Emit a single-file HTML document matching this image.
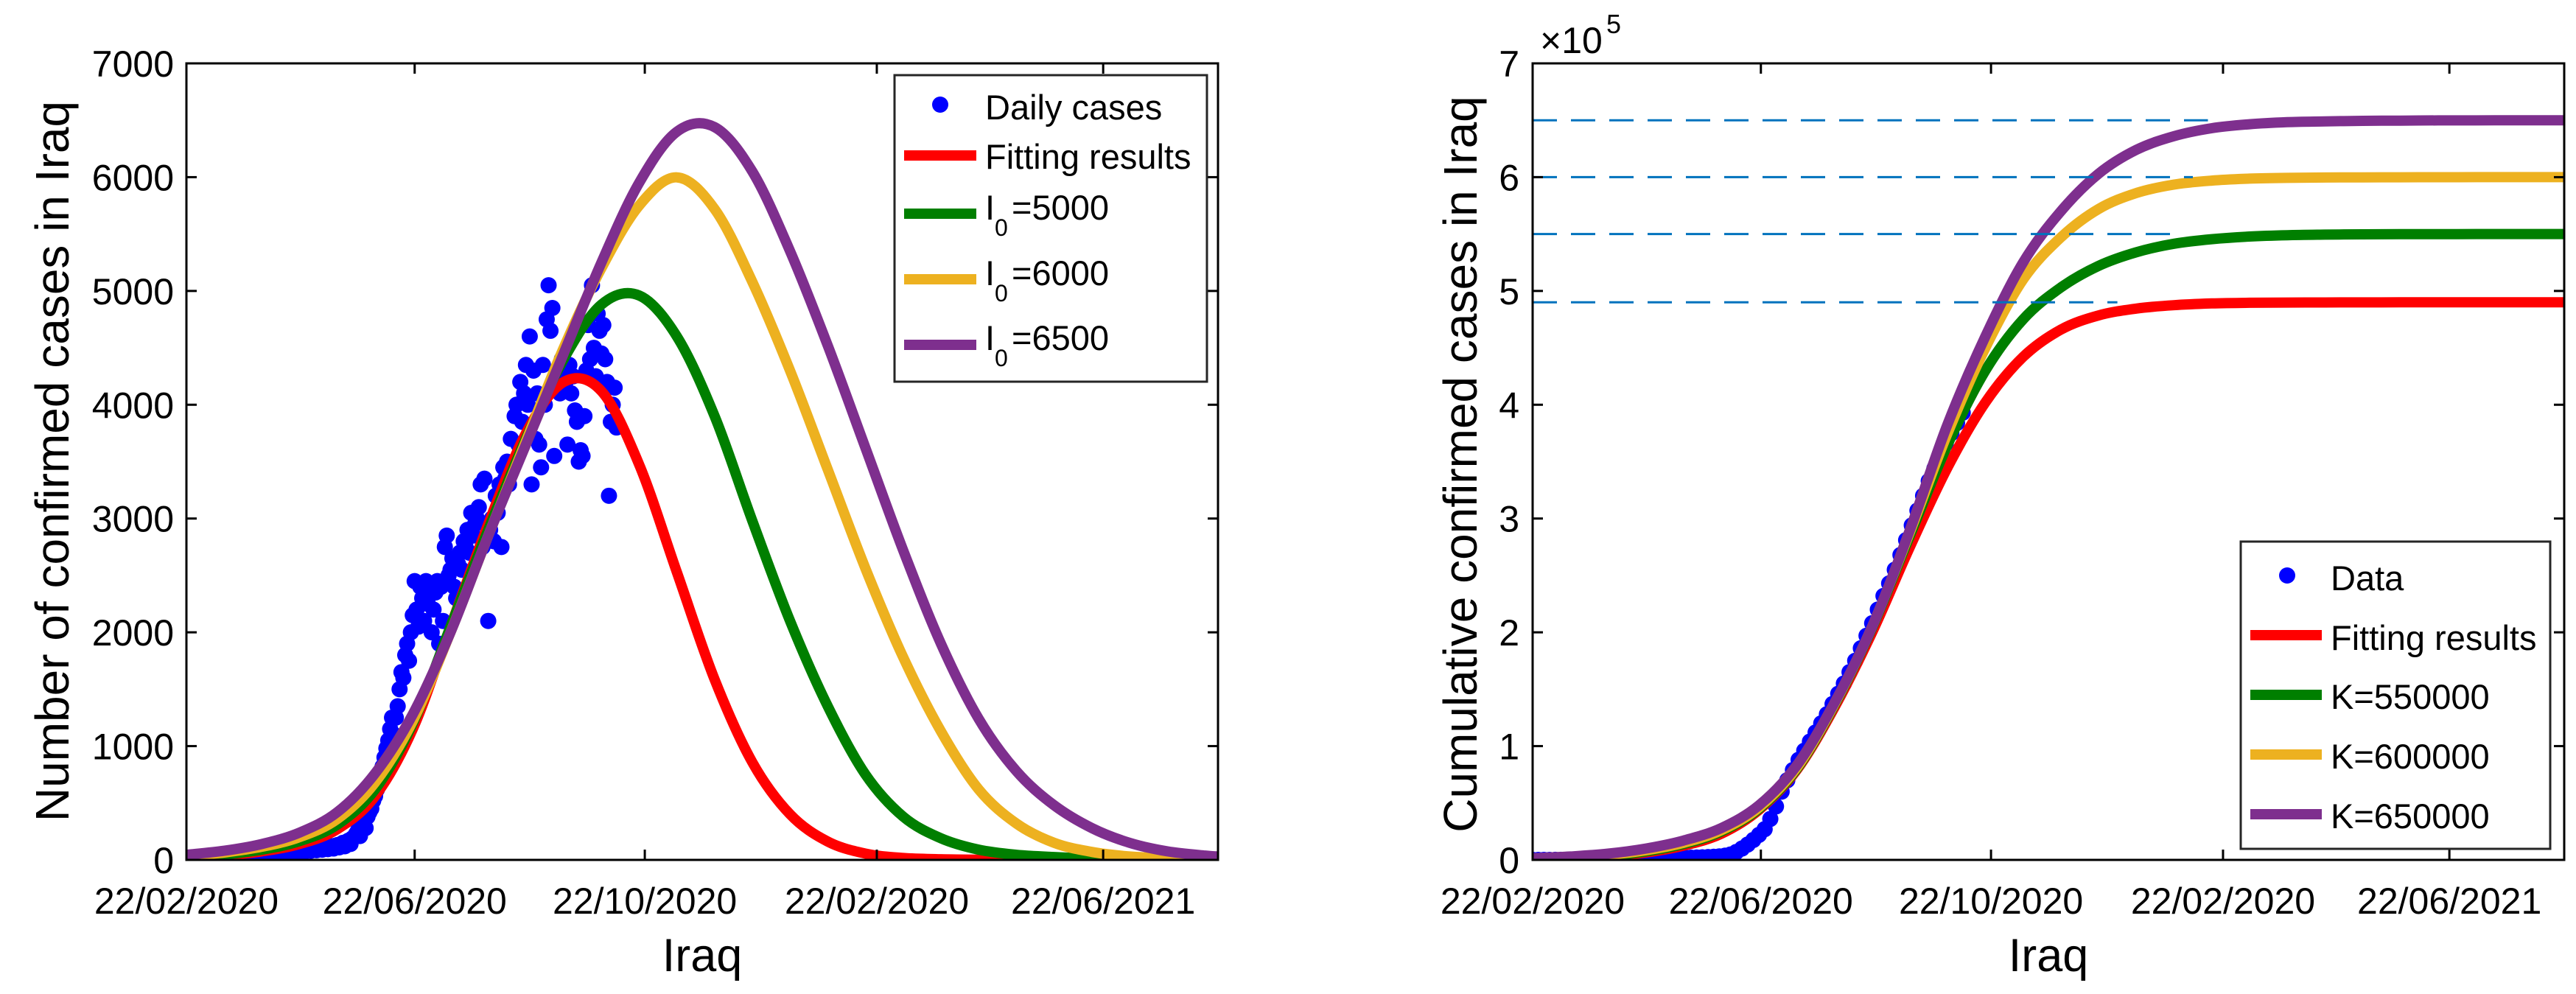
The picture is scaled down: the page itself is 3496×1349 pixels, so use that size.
<!DOCTYPE html>
<html><head><meta charset="utf-8"><style>
html,body{margin:0;padding:0;background:#fff;}
svg{display:block;font-family:"Liberation Sans",Arial,sans-serif;}
</style></head><body>
<svg id="fig" width="3496" height="1349" viewBox="0 0 3496 1349" xmlns="http://www.w3.org/2000/svg">
<defs>
<clipPath id="clipL"><rect x="253" y="86" width="1400" height="1081"/></clipPath>
<clipPath id="clipR"><rect x="2080" y="86" width="1400" height="1081"/></clipPath>
</defs>
<rect width="3496" height="1349" fill="#fff"/>
<g id="left">
  <g id="lData" clip-path="url(#clipL)"></g>
  <rect x="253" y="86" width="1400" height="1081" fill="none" stroke="#000" stroke-width="3"/>
  <g id="lTicks"></g>
  <text x="93" y="626" font-size="64" text-anchor="middle" transform="rotate(-90 93 626)">Number of confirmed cases in Iraq</text>
  <text x="953" y="1318" font-size="63" text-anchor="middle">Iraq</text>
  <g>
    <rect x="1214" y="102" width="424" height="416" fill="#fff" stroke="#262626" stroke-width="3"/>
    <circle cx="1276" cy="142" r="11" fill="#0000ff"/>
    <text x="1337" y="162" font-size="47">Daily cases</text>
    <line x1="1227" y1="211" x2="1325" y2="211" stroke="#ff0000" stroke-width="14"/>
    <text x="1337" y="229" font-size="47">Fitting results</text>
    <line x1="1227" y1="290" x2="1325" y2="290" stroke="#007f00" stroke-width="14"/>
    <text y="298" font-size="47"><tspan x="1337">I</tspan><tspan x="1350" y="320" font-size="32">0</tspan><tspan x="1373" y="298">=5000</tspan></text>
    <line x1="1227" y1="379" x2="1325" y2="379" stroke="#edb120" stroke-width="14"/>
    <text y="387" font-size="47"><tspan x="1337">I</tspan><tspan x="1350" y="409" font-size="32">0</tspan><tspan x="1373" y="387">=6000</tspan></text>
    <line x1="1227" y1="468" x2="1325" y2="468" stroke="#7e2f8e" stroke-width="14"/>
    <text y="475" font-size="47"><tspan x="1337">I</tspan><tspan x="1350" y="497" font-size="32">0</tspan><tspan x="1373" y="475">=6500</tspan></text>
  </g>
</g>
<g id="right">
  <g id="rData" clip-path="url(#clipR)"></g>
  <rect x="2080" y="86" width="1400" height="1081" fill="none" stroke="#000" stroke-width="3"/>
  <g id="rTicks"></g>
  <text x="2090" y="72" font-size="50">×10<tspan x="2180" y="45" font-size="36">5</tspan></text>
  <text x="2004" y="630" font-size="64" text-anchor="middle" transform="rotate(-90 2004 630)">Cumulative confirmed cases in Iraq</text>
  <text x="2780" y="1318" font-size="63" text-anchor="middle">Iraq</text>
  <g>
    <rect x="3041" y="735" width="420" height="417" fill="#fff" stroke="#262626" stroke-width="3"/>
    <circle cx="3104" cy="781" r="11" fill="#0000ff"/>
    <text x="3163" y="801" font-size="47">Data</text>
    <line x1="3054" y1="862" x2="3151" y2="862" stroke="#ff0000" stroke-width="14"/>
    <text x="3163" y="882" font-size="47">Fitting results</text>
    <line x1="3054" y1="943" x2="3151" y2="943" stroke="#007f00" stroke-width="14"/>
    <text x="3163" y="962" font-size="47">K=550000</text>
    <line x1="3054" y1="1024" x2="3151" y2="1024" stroke="#edb120" stroke-width="14"/>
    <text x="3163" y="1043" font-size="47">K=600000</text>
    <line x1="3054" y1="1105" x2="3151" y2="1105" stroke="#7e2f8e" stroke-width="14"/>
    <text x="3163" y="1124" font-size="47">K=650000</text>
  </g>
</g>
</svg>
<script>
const xTickDays = [0, 121, 243, 366, 486];
const xTickLabels = ["22/02/2020", "22/06/2020", "22/10/2020", "22/02/2020", "22/06/2021"];
const leftYTicks = [0, 1000, 2000, 3000, 4000, 5000, 6000, 7000];
const rightYTicks = [0, 1, 2, 3, 4, 5, 6, 7];
const dailyCases = [0,0,0,0,1,0,2,1,3,2,
4,5,3,6,8,5,10,12,8,14,
15,12,18,20,16,22,25,20,28,30,
25,32,35,28,40,38,30,42,45,35,
48,50,40,55,52,45,60,58,50,65,
62,55,70,68,60,75,72,65,80,78,
70,85,82,75,90,88,80,95,92,85,
100,98,90,105,110,95,115,120,100,125,
130,110,140,150,120,160,170,140,190,200,
230,260,210,300,340,280,380,420,450,520,
560,620,700,760,820,900,980,1050,1150,1250,
1100,1250,1350,1500,1650,1600,1800,1900,1750,2000,
2150,2450,2200,2050,2400,2300,2100,2450,2250,2350,
2000,2200,2350,2450,1900,2400,2100,2750,2850,2500,
2550,2650,2400,2300,2600,2700,2550,2800,2750,2900,
2700,3050,2850,2950,3000,3100,3300,2750,3350,2800,
2100,2900,3000,2800,3200,3050,3300,2750,3450,3350,
3500,3300,3700,3450,3900,4000,3650,4200,3850,4100,
4350,4000,4600,3300,4300,3700,4100,3650,3450,4350,
4000,4750,5050,4650,4850,3550,4200,4300,4100,4400,
4250,4200,3650,4350,4100,4250,3950,3850,3500,3600,
3550,3900,4300,4700,4400,5050,4500,4250,4800,4650,
4450,4700,4400,4200,3200,3850,4000,4150,3800];
const curveDays = [0,20,40,60,80,100,120,140,160,180,200,220,240,260,280,300,320,340,360,380,400,420,440,460,480,500,520,540,547];
const fitDaily = [20,40,75,140,270,560,1150,2050,2950,3750,4200,4120,3475,2529,1586,858,401,161,56,17,6,2,1,0,0,0,0,0,0];
const i0_5000 = [25,48,90,165,310,620,1200,2050,2900,3700,4400,4880,4960,4600,3900,2980,2100,1350,750,380,190,90,45,25,12,6,3,2,1];
const i0_6000 = [35,65,115,200,360,680,1220,2000,2850,3680,4500,5200,5750,5998,5720,5080,4300,3430,2560,1780,1130,620,320,150,70,30,15,8,6];
const i0_6500 = [45,80,140,240,420,760,1280,2000,2850,3650,4450,5250,5950,6400,6440,6050,5350,4520,3620,2720,1900,1240,780,480,280,150,75,38,30];
const cumDays = [];
for (let d = 0; d <= 228; d += 3) cumDays.push(d);
const cumCases = [0,10,20,40,60,90,120,160,200,250,300,360,420,480,550,620,700,780,860,950,1040,1140,1240,1350,1460,1580,1700,1830,1970,2120,
2300,2500,2750,3100,3700,4800,7000,10000,13500,17500,22000,27000,36000,47000,60000,70000,79000,88000,96000,104000,112000,120000,128000,137000,146000,155000,165000,175000,186000,197000,208000,220000,232000,243000,255000,268000,281000,294000,307000,320000,333000,344000,355000,366000,375000,384000,393000];
const fitCum = [800,1600,3200,6500,12500,23000,44000,79000,134000,200000,275000,345000,402000,442000,466000,478500,484500,487500,489000,489600,489800,489900,489950,490000,490000,490000,490000,490000,490000];
const k550000 = [1000,2000,3800,7500,14000,25000,45000,80000,136000,204000,285000,365000,430000,475000,503000,522000,534000,541500,545500,547800,549000,549500,549800,549900,549950,550000,550000,550000,550000];
const k600000 = [1200,2500,4500,8500,15000,26000,46000,81000,137000,205000,288000,375000,450000,510000,547000,572000,586000,593500,597000,598700,599400,599700,599850,599900,599950,600000,600000,600000,600000];
const k650000 = [1500,3000,5500,10000,17000,28000,48000,83000,138000,205000,290000,383000,460000,525000,570000,603000,624000,636000,643000,646500,648300,649000,649500,649700,649850,649900,649950,650000,650000];
const refLevels = [650000, 600000, 550000, 490000];
const refEndDays = [358, 350, 339, 310];

const NS = "http://www.w3.org/2000/svg";
const PXDAY = 2.56;
const xL = d => 253 + d * PXDAY;
const yL = v => 1167 - v * 1081 / 7000;
const xR = d => 2080 + d * PXDAY;
const yR = v => 1167 - v * 1081 / 700000;

function mk(tag, attrs, parent) {
  const e = document.createElementNS(NS, tag);
  for (const k in attrs) e.setAttribute(k, attrs[k]);
  parent.appendChild(e);
  return e;
}
function smoothPath(xs, ys) {
  let d = "M" + xs[0].toFixed(1) + "," + ys[0].toFixed(1);
  for (let i = 0; i < xs.length - 1; i++) {
    const x0 = xs[Math.max(i - 1, 0)], y0 = ys[Math.max(i - 1, 0)];
    const x1 = xs[i], y1 = ys[i], x2 = xs[i + 1], y2 = ys[i + 1];
    const x3 = xs[Math.min(i + 2, xs.length - 1)], y3 = ys[Math.min(i + 2, xs.length - 1)];
    const c1x = x1 + (x2 - x0) / 6, c1y = y1 + (y2 - y0) / 6;
    const c2x = x2 - (x3 - x1) / 6, c2y = y2 - (y3 - y1) / 6;
    d += " C" + c1x.toFixed(1) + "," + c1y.toFixed(1) + " " + c2x.toFixed(1) + "," + c2y.toFixed(1) + " " + x2.toFixed(1) + "," + y2.toFixed(1);
  }
  return d;
}

const lData = document.getElementById("lData");
dailyCases.forEach((v, i) => {
  const c = mk("circle", {cx: xL(i), cy: yL(v), r: 11, fill: "#0000ff"}, lData);
  
  
});
const leftSeries = [[fitDaily, "#ff0000", "fitting-curve"], [i0_5000, "#007f00", "i0-5000-curve"], [i0_6000, "#edb120", "i0-6000-curve"], [i0_6500, "#7e2f8e", "i0-6500-curve"]];
leftSeries.forEach(s => {
  const p = mk("path", {d: smoothPath(curveDays.map(xL), s[0].map(yL)), fill: "none", stroke: s[1], "stroke-width": 14, "stroke-linejoin": "round"}, lData);
  
  
});

const rData = document.getElementById("rData");
cumCases.forEach((v, i) => {
  const c = mk("circle", {cx: xR(cumDays[i]), cy: yR(v), r: 11, fill: "#0000ff"}, rData);
  
  
});
const rightSeries = [[fitCum, "#ff0000", "fitting-cumulative-curve"], [k550000, "#007f00", "k-550000-curve"], [k600000, "#edb120", "k-600000-curve"], [k650000, "#7e2f8e", "k-650000-curve"]];
rightSeries.forEach(s => {
  const p = mk("path", {d: smoothPath(curveDays.map(xR), s[0].map(yR)), fill: "none", stroke: s[1], "stroke-width": 14, "stroke-linejoin": "round"}, rData);
  
  
});
refLevels.forEach((v, i) => {
  const l = mk("line", {x1: xR(0), y1: yR(v), x2: xR(refEndDays[i]), y2: yR(v), stroke: "#0072bd", "stroke-width": 3, "stroke-dasharray": "33 19"}, rData);
  
  
});

function ticks(gid, xf, x0, yTicks, yLabelX) {
  const g = document.getElementById(gid);
  xTickDays.forEach((d, i) => {
    const x = xf(d);
    const t1 = mk("line", {x1: x, y1: 1167, x2: x, y2: 1153, stroke: "#000", "stroke-width": 3}, g);
    
    
    const t2 = mk("line", {x1: x, y1: 86, x2: x, y2: 100, stroke: "#000", "stroke-width": 3}, g);
    
    
    const tx = mk("text", {x: x, y: 1240, "font-size": 50, "text-anchor": "middle"}, g);
    tx.textContent = xTickLabels[i];
    
    
  });
  yTicks.forEach((lab, i) => {
    const y = 1167 - i * 1081 / 7;
    const t1 = mk("line", {x1: x0, y1: y, x2: x0 + 14, y2: y, stroke: "#000", "stroke-width": 3}, g);
    
    
    const t2 = mk("line", {x1: x0 + 1400, y1: y, x2: x0 + 1386, y2: y, stroke: "#000", "stroke-width": 3}, g);
    
    
    const tx = mk("text", {x: yLabelX, y: y + 18, "font-size": 50, "text-anchor": "end"}, g);
    tx.textContent = lab;
    
    
  });
}
ticks("lTicks", xL, 253, leftYTicks, 236);
ticks("rTicks", xR, 2080, rightYTicks, 2062);
</script>
</body></html>
